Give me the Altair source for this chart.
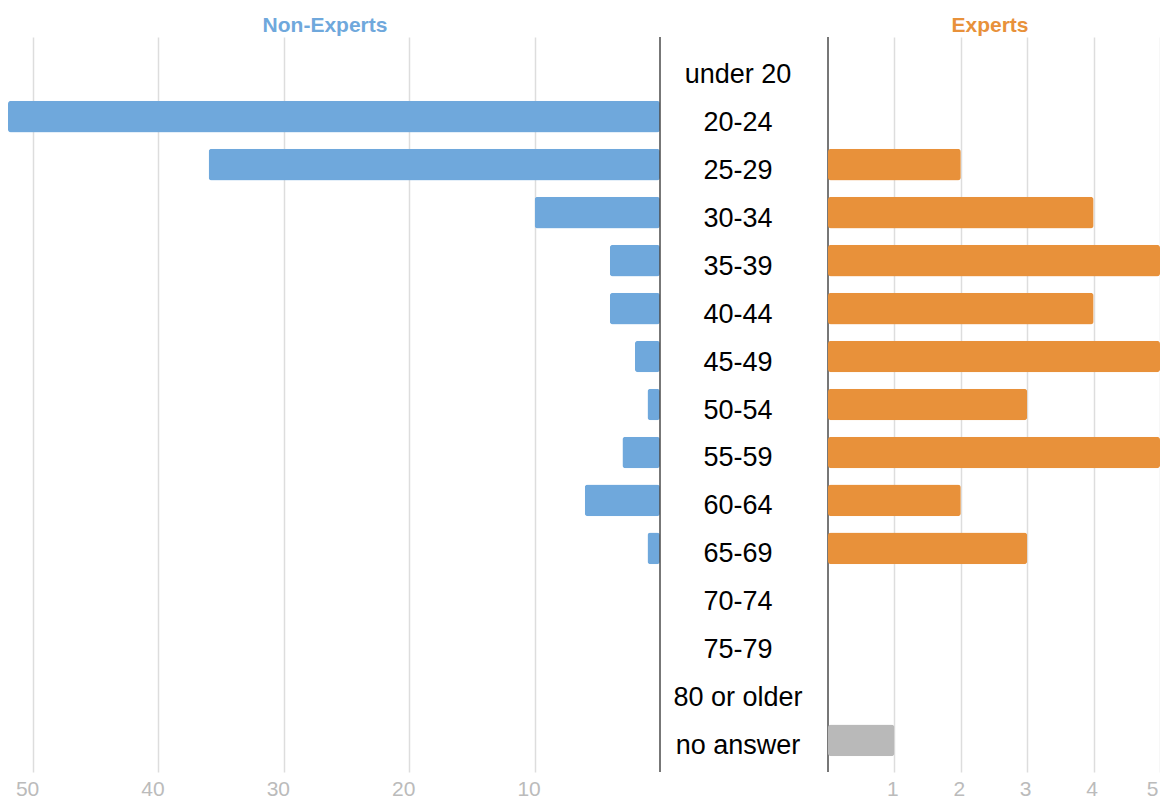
import altair as alt
import pandas as pd

categories = ["under 20", "20-24", "25-29", "30-34", "35-39", "40-44", "45-49",
              "50-54", "55-59", "60-64", "65-69", "70-74", "75-79", "80 or older", "no answer"]
non_experts = [0, 52, 36, 10, 4, 4, 2, 1, 3, 6, 1, 0, 0, 0, 0]
experts = [0, 0, 2, 4, 5, 4, 5, 3, 5, 2, 3, 0, 0, 0, 1]
left_ticks = [10, 20, 30, 40, 50]
right_ticks = [1, 2, 3, 4, 5]

FONT = "Liberation Sans"
H = 735
BLUE = "#6fa8dc"
ORANGE = "#e8913a"
GRAY = "#b9b9b9"

df = pd.DataFrame({"age": categories, "non": non_experts, "exp": experts})

yenc = alt.Y("age:N", sort=categories,
             scale=alt.Scale(type="band", domain=categories, paddingInner=0.34, paddingOuter=0.33),
             axis=None)

axis_common = dict(grid=True, domain=False, ticks=False, title=None,
                   gridColor="#dddddd", gridWidth=1.5,
                   labelColor="#bbbbbb", labelFontSize=21, labelFont=FONT,
                   labelPadding=6)

left = alt.Chart(df).transform_filter("datum.non > 0").mark_bar(
    color=BLUE, cornerRadius=3
).encode(
    x=alt.X("non:Q", scale=alt.Scale(domain=[0, 52], reverse=True, nice=False, zero=True),
            axis=alt.Axis(values=left_ticks, labelOffset=-6, **axis_common)),
    y=yenc,
).properties(
    width=652, height=H,
    title=alt.TitleParams("Non-Experts", color=BLUE, fontSize=21, fontWeight="bold",
                          font=FONT, offset=1, dx=-9),
)

mid_text = alt.Chart(df).mark_text(fontSize=27, font=FONT, color="black",
                                   baseline="alphabetic", dy=14).encode(
    y=yenc,
    text="age:N",
    x=alt.value(78),
)
one = pd.DataFrame({"k": [0]})
rule_l = alt.Chart(one).mark_rule(color="#4a4a4a", strokeWidth=1.5).encode(
    x=alt.value(0), y=alt.value(0), y2=alt.value(H))
rule_r = alt.Chart(one).mark_rule(color="#4a4a4a", strokeWidth=1.5).encode(
    x=alt.value(168), y=alt.value(0), y2=alt.value(H))
mid = alt.layer(mid_text, rule_l, rule_r).properties(
    width=168, height=H,
    title=alt.TitleParams(" ", fontSize=21, font=FONT, offset=1),
)

right = alt.Chart(df).transform_filter("datum.exp > 0").mark_bar(cornerRadius=3).encode(
    x=alt.X("exp:Q", scale=alt.Scale(domain=[0, 5], nice=False),
            axis=alt.Axis(values=right_ticks, labelOffset=-2, **axis_common)),
    y=yenc,
    color=alt.condition("datum.age == 'no answer'", alt.value(GRAY), alt.value(ORANGE)),
).properties(
    width=332, height=H,
    title=alt.TitleParams("Experts", color=ORANGE, fontSize=21, fontWeight="bold",
                          font=FONT, offset=1, dx=-4),
)

chart = alt.hconcat(left, mid, right, spacing=0, bounds="flush").configure_view(
    strokeWidth=0
).properties(padding={"left": 0, "top": 6, "right": 0, "bottom": 0})

chart.save("out.html", embed_options={"renderer": "svg", "actions": False})
